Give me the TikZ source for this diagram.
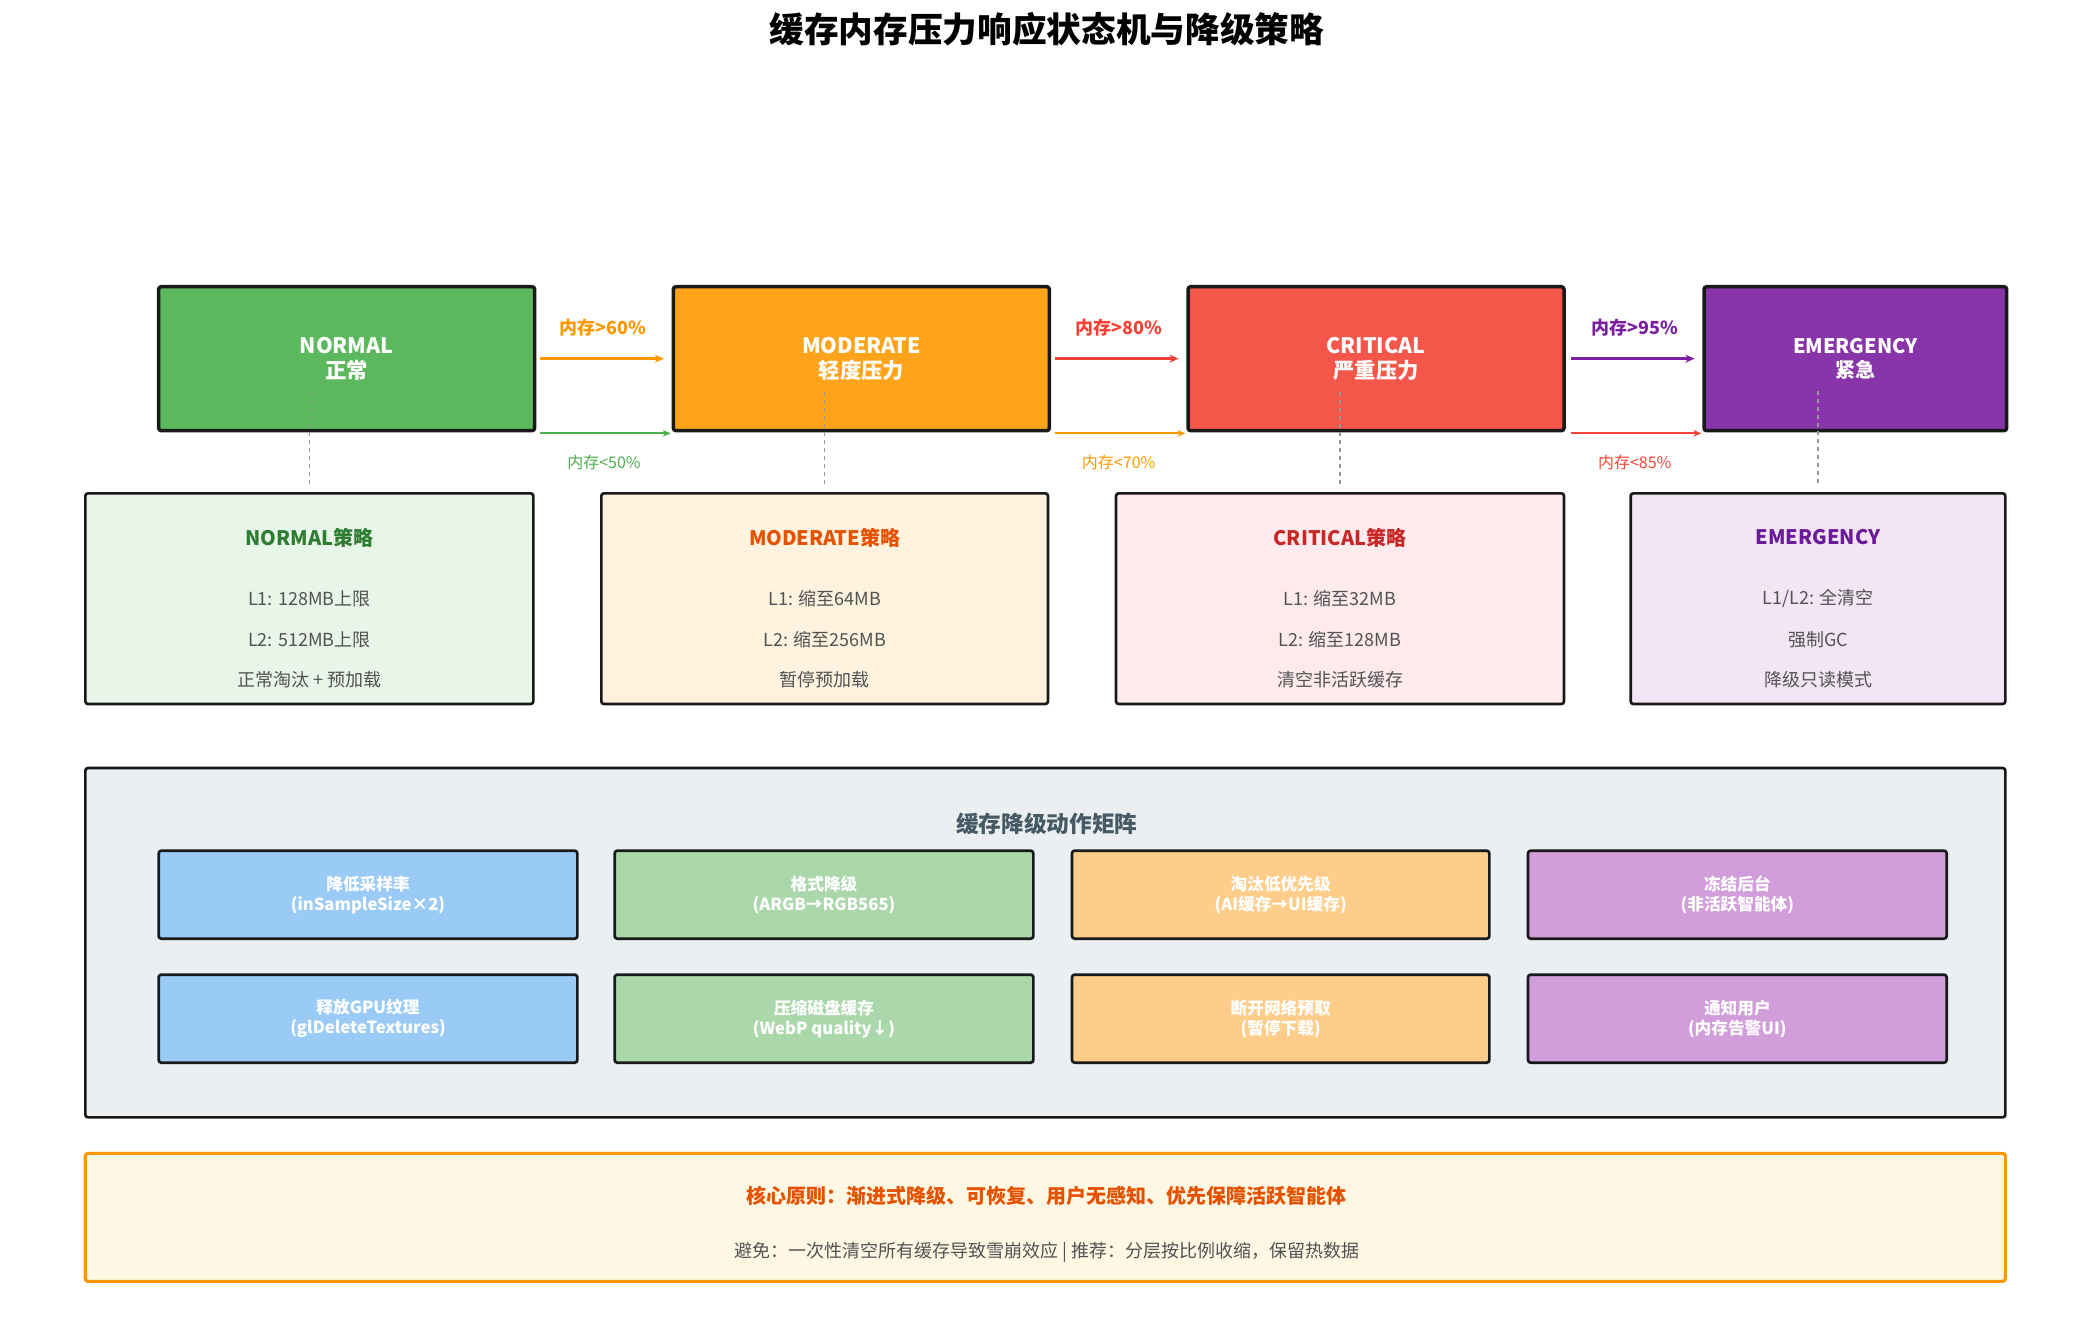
\documentclass[tikz,border=0pt]{standalone}
\usepackage{fontspec}
\setmainfont{Noto Sans CJK SC}
\usetikzlibrary{positioning,arrows.meta}
\definecolor{cNormal}{HTML}{5CB85C}
\definecolor{cModer}{HTML}{FFA31A}
\definecolor{cCrit}{HTML}{F5564A}
\definecolor{cEmerg}{HTML}{8835AA}
\definecolor{aOrange}{HTML}{FF9800}
\definecolor{aGreen}{HTML}{4CAF50}
\definecolor{aRed}{HTML}{F44336}
\definecolor{aPurple}{HTML}{7B1FA2}
\tikzset{
  state/.style = {draw=black!90, line width=2.6pt, rounded corners=2pt, text=white, font=\fontsize{16}{19}\selectfont\bfseries, align=center},
  policy/.style = {draw=black!90, line width=2pt, rounded corners=2pt},
  act/.style = {draw=black!90, line width=2pt, rounded corners=2pt, text=white, font=\fontsize{12.5}{15}\selectfont\bfseries, align=center},
  trans/.style = {-{Stealth[length=7pt,width=6pt]}, line width=2.2pt},
  back/.style = {-{Stealth[length=6pt,width=5pt]}, line width=1.6pt},
  guide/.style = {dashed, gray!80, line width=1pt},
  txt/.style = {font=\fontsize{13.5}{16}\selectfont, text=black!68},
}
\begin{document}
\begin{tikzpicture}[x=1pt,y=-1pt]
\useasboundingbox (0,0) rectangle (1560,997);
\node[font=\fontsize{26}{30}\selectfont\bfseries] (title) at (785,22) {缓存内存压力响应状态机与降级策略};

% states
\path[state, fill=cNormal] (119,215) rectangle node (sN) {NORMAL\\正常} (401,323);
\path[state, fill=cModer] (505,215) rectangle node (sM) {MODERATE\\轻度压力} (787,323);
\path[state, fill=cCrit] (891,215) rectangle node (sC) {CRITICAL\\严重压力} (1173,323);
\path[state, fill=cEmerg, font=\fontsize{15}{18}\selectfont\bfseries] (1278,215) rectangle node (sE) {EMERGENCY\\紧急} (1505,323);

% transitions
\coordinate (u1a) at (405,269); \coordinate (u1b) at (498,269);
\coordinate (d1a) at (405,325); \coordinate (d1b) at (503,325);
\coordinate (u2a) at (791,269); \coordinate (u2b) at (884,269);
\coordinate (d2a) at (791,325); \coordinate (d2b) at (889,325);
\coordinate (u3a) at (1178,269); \coordinate (u3b) at (1271,269);
\coordinate (d3a) at (1178,325); \coordinate (d3b) at (1276,325);
\draw[trans, aOrange] (u1a) -- (u1b);
\draw[back, aGreen] (d1a) -- (d1b);
\draw[trans, aRed] (u2a) -- (u2b);
\draw[back, aOrange] (d2a) -- (d2b);
\draw[trans, aPurple] (u3a) -- (u3b);
\draw[back, aRed] (d3a) -- (d3b);
\node[text=aOrange, font=\fontsize{13.5}{16}\selectfont\bfseries] (l1u) at (452,246) {内存>60\%};
\node[text=aRed, font=\fontsize{13.5}{16}\selectfont\bfseries] (l2u) at (839,246) {内存>80\%};
\node[text=aPurple, font=\fontsize{13.5}{16}\selectfont\bfseries] (l3u) at (1226,246) {内存>95\%};
\node[text=aGreen, font=\fontsize{12}{14}\selectfont] (l1d) at (453,347) {内存<50\%};
\node[text=aOrange, font=\fontsize{12}{14}\selectfont] (l2d) at (839,347) {内存<70\%};
\node[text=aRed, font=\fontsize{12}{14}\selectfont] (l3d) at (1226,347) {内存<85\%};

% policies
\foreach \name/\xa/\xb/\bg/\fg/\head/\la/\lb/\lc in {
  pN/64/400/E8F5E9/2E7D32/NORMAL策略/{L1: 128MB上限}/{L2: 512MB上限}/{正常淘汰 + 预加载},
  pM/451/786/FFF3E0/E65100/MODERATE策略/{L1: 缩至64MB}/{L2: 缩至256MB}/暂停预加载,
  pC/837/1173/FFEBEE/C62828/CRITICAL策略/{L1: 缩至32MB}/{L2: 缩至128MB}/清空非活跃缓存,
  pE/1223/1504/F3E5F5/6A1B9A/EMERGENCY/{L1/L2: 全清空}/强制GC/降级只读模式}{
  \definecolor{bgc}{HTML}{\bg}\definecolor{fgc}{HTML}{\fg}
  \path[policy, fill=bgc] (\xa,370) rectangle (\xb,528);
  \coordinate (\name) at ({(\xa+\xb)/2},365);
  \node[text=fgc, font=\fontsize{15}{18}\selectfont\bfseries] at ({(\xa+\xb)/2},403) {\head};
  \node[txt] at ({(\xa+\xb)/2},449) {\la};
  \node[txt] at ({(\xa+\xb)/2},480) {\lb};
  \node[txt] at ({(\xa+\xb)/2},510) {\lc};
}
\draw[guide] (sN.south -| pN) ++(0,4) -- (pN);
\draw[guide] (sM.south -| pM) ++(0,4) -- (pM);
\draw[guide] (sC.south -| pC) ++(0,4) -- (pC);
\draw[guide] (sE.south -| pE) ++(0,4) -- (pE);

% action matrix
\path[policy, fill={rgb,255:red,236;green,239;blue,241}] (64,576) rectangle (1504,838);
\node[text={rgb,255:red,69;green,90;blue,100}, font=\fontsize{17}{20}\selectfont\bfseries] (mtitle) at (785,618) {缓存降级动作矩阵};
\foreach \xa/\xb/\bg/\ta/\tb/\tc/\td in {
  119/433/9ACBF7/降低采样率/{(inSampleSize×2)}/释放GPU纹理/{(glDeleteTextures)},
  461/775/ABD8AB/格式降级/{(ARGB→RGB565)}/压缩磁盘缓存/{(WebP quality↓)},
  804/1117/FECD8A/淘汰低优先级/{(AI缓存→UI缓存)}/断开网络预取/{(暂停下载)},
  1146/1460/D19DDA/冻结后台/{(非活跃智能体)}/通知用户/{(内存告警UI)}}{
  \definecolor{bgc}{HTML}{\bg}
  \path[act, fill=bgc] (\xa,638) rectangle node {\ta\\\tb} (\xb,704);
  \path[act, fill=bgc] (\xa,731) rectangle node {\tc\\\td} (\xb,797);
}

% principle
\path[draw=aOrange, line width=2.4pt, rounded corners=2pt, fill={rgb,255:red,254;green,247;blue,228}] (64,865) rectangle (1504,961);
\node[text={rgb,255:red,230;green,81;blue,0}, font=\fontsize{15}{18}\selectfont\bfseries] (core) at (785,897) {核心原则：渐进式降级、可恢复、用户无感知、优先保障活跃智能体};
\node[txt] (avoid) at (785,939) {避免：一次性清空所有缓存导致雪崩效应 | 推荐：分层按比例收缩，保留热数据};
\end{tikzpicture}
\end{document}
